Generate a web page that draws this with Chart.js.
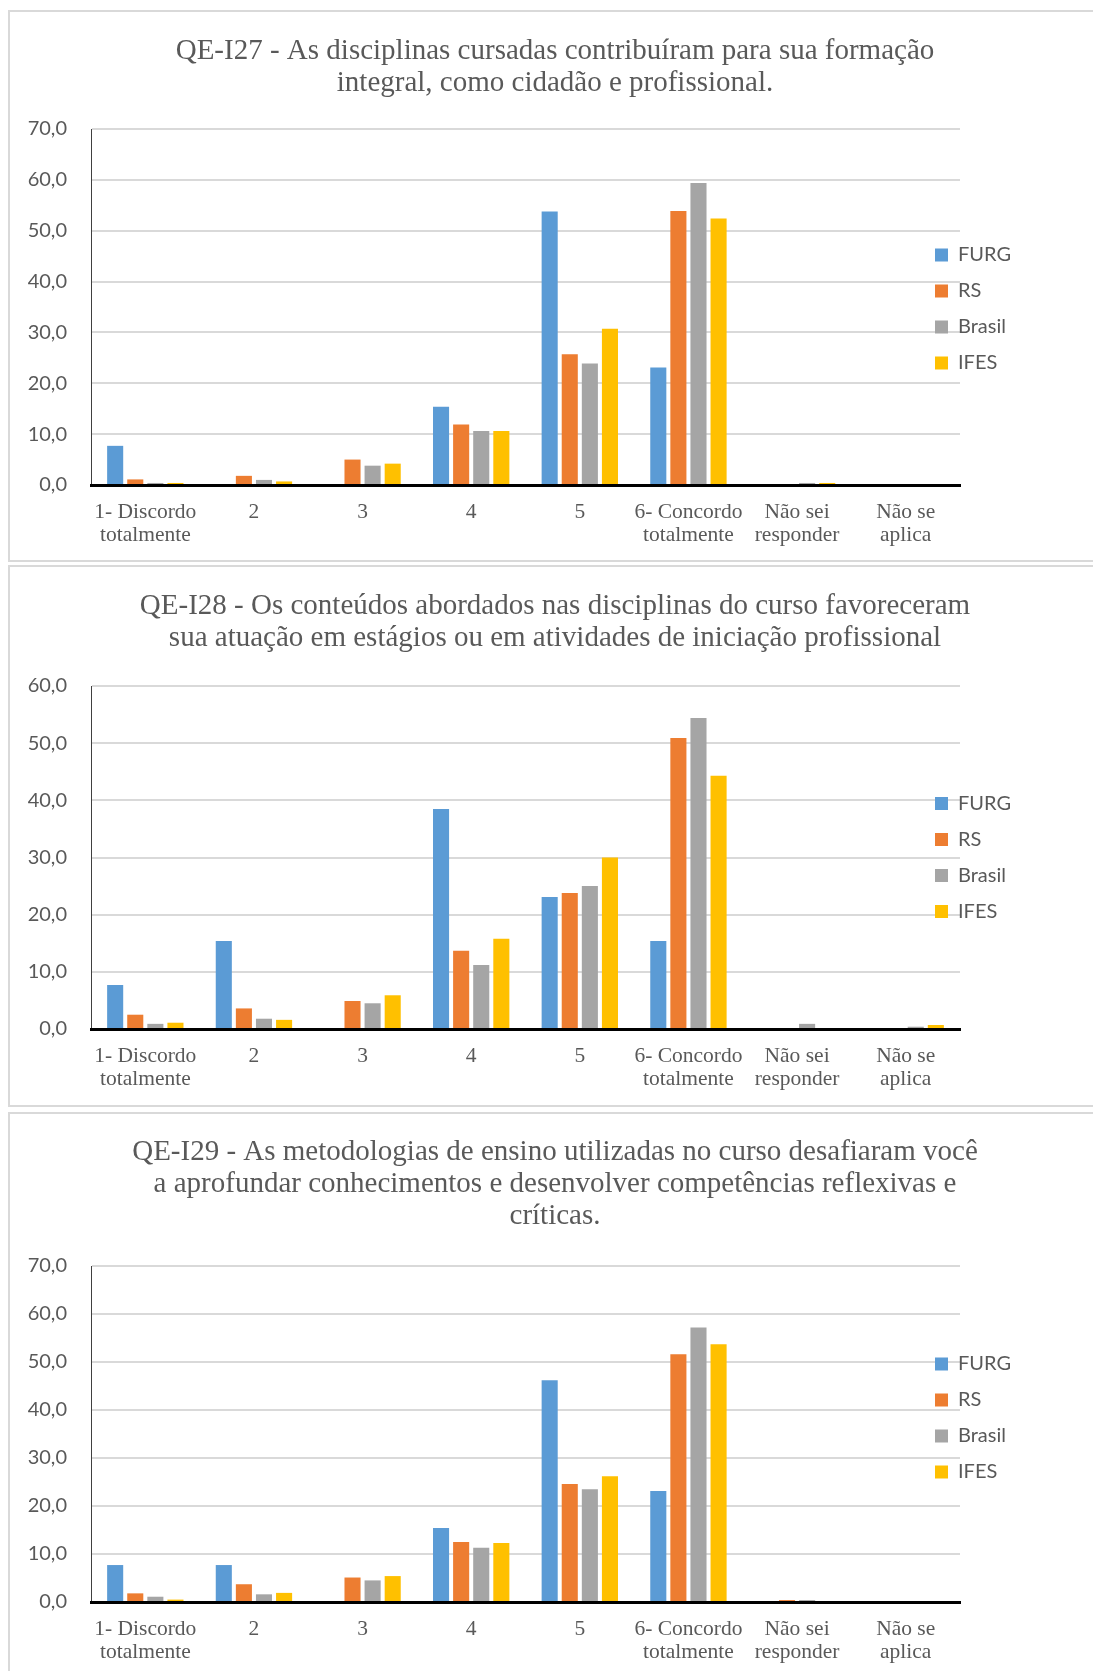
<!DOCTYPE html>
<html>
<head>
<meta charset="utf-8">
<script src="https://cdn.jsdelivr.net/npm/chart.js@4.4.1/dist/chart.umd.min.js"></script>
<style>
  html, body { margin: 0; padding: 0; background: #fff; overflow: hidden; width: 1093px; height: 1671px; }
  .panel { position: absolute; left: 8px; width: 1100px; border: 2px solid #d9d9d9; border-right: none; box-sizing: border-box; }
  .panel canvas { display: block; }
</style>
</head>
<body>
<div class="panel" style="top:10px;height:552px"><canvas id="c27" width="1090" height="548"></canvas></div>
<div class="panel" style="top:565px;height:542px"><canvas id="c28" width="1090" height="538"></canvas></div>
<div class="panel" style="top:1112px;height:600px"><canvas id="c29" width="1090" height="570"></canvas></div>
<script>
const categories = [
  ['1- Discordo', 'totalmente'], '2', '3', '4', '5',
  ['6- Concordo', 'totalmente'], ['Não sei', 'responder'], ['Não se', 'aplica']
];
const seriesNames = ['FURG', 'RS', 'Brasil', 'IFES'];
const seriesColors = ['#5b9bd5', '#ed7d31', '#a5a5a5', '#ffc000'];

// QE-I27
const title27 = ['QE-I27 - As disciplinas cursadas contribuíram para sua formação', 'integral, como cidadão e profissional.'];
const furg27 = [7.7, 0, 0, 15.4, 53.8, 23.1, 0, 0];
const rs27 = [1.1, 1.8, 5.0, 11.9, 25.7, 53.9, 0, 0];
const brasil27 = [0.4, 1.0, 3.8, 10.6, 23.9, 59.4, 0.4, 0];
const ifes27 = [0.4, 0.7, 4.2, 10.6, 30.7, 52.4, 0.4, 0];

// QE-I28
const title28 = ['QE-I28 - Os conteúdos abordados nas disciplinas do curso favoreceram', 'sua atuação em estágios ou em atividades de iniciação profissional'];
const furg28 = [7.7, 15.4, 0, 38.5, 23.1, 15.4, 0, 0];
const rs28 = [2.5, 3.6, 4.9, 13.7, 23.8, 50.9, 0, 0];
const brasil28 = [0.9, 1.8, 4.5, 11.2, 25.0, 54.4, 0.9, 0.4];
const ifes28 = [1.1, 1.6, 5.9, 15.8, 30.0, 44.3, 0.1, 0.7];

// QE-I29
const title29 = ['QE-I29 - As metodologias de ensino utilizadas no curso desafiaram você', 'a aprofundar conhecimentos e desenvolver competências reflexivas e', 'críticas.'];
const furg29 = [7.7, 7.7, 0, 15.4, 46.2, 23.1, 0, 0];
const rs29 = [1.8, 3.7, 5.1, 12.5, 24.6, 51.6, 0.4, 0];
const brasil29 = [1.1, 1.6, 4.5, 11.3, 23.5, 57.2, 0.4, 0];
const ifes29 = [0.5, 1.9, 5.4, 12.3, 26.2, 53.7, 0, 0];

const yTicks = [0, 10, 20, 30, 40, 50, 60, 70];

Chart.defaults.font.family = 'Lato';
Chart.defaults.color = '#595959';

// legend sits partly over the plot in the original, so nudge it after layout
const legendNudge = {
  id: 'legendNudge',
  afterInit(chart) {
    const lg = chart.legend;
    const fit = lg.fit;
    lg.fit = function () { fit.call(this); if (!this.isHorizontal()) this.width = 140; };
  },
  afterLayout(chart, args, opts) {
    const lg = chart.legend;
    lg.left -= opts.dx; lg.right -= opts.dx;
    lg.top += opts.dy; lg.bottom += opts.dy;
  }
};

function makeChart(id, title, values, yMax, pad, xHeight, legendDy) {
  return new Chart(document.getElementById(id), {
    type: 'bar',
    data: {
      labels: categories,
      datasets: values.map((v, i) => ({
        label: seriesNames[i],
        data: v,
        backgroundColor: seriesColors[i],
        borderWidth: 0,
        categoryPercentage: 0.74,
        barPercentage: 0.8,
      })),
    },
    plugins: [legendNudge],
    options: {
      responsive: false,
      animation: false,
      plugins: {
        title: {
          display: true,
          text: title,
          color: '#595959',
          font: { family: 'Liberation Serif', size: 29, weight: 'normal', lineHeight: '32px' },
          padding: { top: pad[0], bottom: pad[1] },
        },
        legend: {
          position: 'right',
          fullSize: false,
          labels: {
            boxWidth: 13,
            boxHeight: 13,
            padding: 16,
            color: '#595959',
            font: { family: 'Lato', size: 20 },
          },
        },
        tooltip: { enabled: false },
        legendNudge: { dx: 41, dy: legendDy },
      },
      scales: {
        x: {
          grid: { display: false },
          border: { display: true, color: '#000', width: 3, z: 1 },
          ticks: {
            color: '#595959',
            padding: 8,
            maxRotation: 0,
            autoSkip: false,
            font: { family: 'Liberation Serif', size: 21.5, lineHeight: '23px' },
          },
          afterFit(scale) { scale.height = xHeight; },
        },
        y: {
          min: 0,
          max: yMax,
          afterBuildTicks(scale) {
            scale.ticks = yTicks.filter(t => t <= yMax).map(t => ({ value: t }));
          },
          grid: { color: '#d9d9d9', lineWidth: 2, drawTicks: false },
          border: { color: '#404040', width: 1 },
          ticks: {
            padding: 24,
            color: '#595959',
            font: { family: 'Lato', size: 20 },
            callback: v => v.toFixed(1).replace('.', ','),
          },
          afterFit(scale) { scale.width = 81; },
        },
      },
    },
  });
}

makeChart('c27', title27, [furg27, rs27, brasil27, ifes27], 70, [23, 30], 75, 2);
makeChart('c28', title28, [furg28, rs28, brasil28, ifes28], 60, [23, 32], 76, 0);
makeChart('c29', title29, [furg29, rs29, brasil29, ifes29], 70, [22, 34], 82, -16);
</script>
</body>
</html>
